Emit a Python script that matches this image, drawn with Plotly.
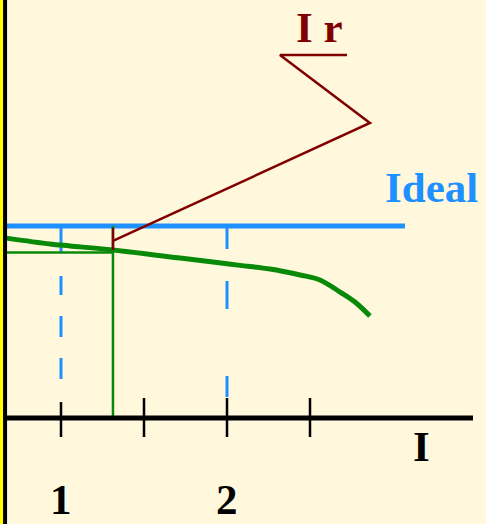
import plotly.graph_objects as go

# ---- data (x: current I, ticks 1 and 2; y: ratio, Ideal = 1) ----
tick_x = [1.0, 1.5, 2.0, 2.5]
tick_labels = ["1", "", "2", ""]
axis_x_start = 0.663
axis_x_end = 3.482

ideal_y = 1.0
ideal_x_end = 3.072

green_x = [0.663, 0.934, 1.054, 1.313, 1.717, 1.928, 2.078, 2.259, 2.440, 2.560, 2.681, 2.771, 2.861]
green_y = [0.938, 0.906, 0.896, 0.875, 0.833, 0.811, 0.795, 0.776, 0.745, 0.719, 0.656, 0.604, 0.531]

oper_x = 1.313
oper_y = 0.862

ir_x = [1.313, 2.861, 2.319, 2.723]
ir_y = [0.922, 1.537, 1.891, 1.891]
ir_stem_y = [0.99, 0.875]

dash_x = [1.0, 2.0]

XR = [0.63253, 3.56024]
YR = [-0.55208, 2.17708]

BLUE = "#1E90FF"
GREEN = "#088A08"
RED = "#800000"
BG = "#FFF8DC"

fig = go.Figure()

def line(x, y, color, width, dash="solid", shape="linear"):
    fig.add_trace(go.Scatter(x=x, y=y, mode="lines",
                             line=dict(color=color, width=width, dash=dash, shape=shape),
                             hoverinfo="skip", showlegend=False))

# blue dashed verticals
line([dash_x[0], dash_x[0]], [ideal_y, 0], BLUE, 3, "26px,24px,19px,21px,21px,21px,21px,40px")
line([dash_x[1], dash_x[1]], [ideal_y, 0], BLUE, 3, "23px,32px,28px,67px,21px,40px")
# ideal line
line([axis_x_start, ideal_x_end], [ideal_y, ideal_y], BLUE, 5)
# operating point lines
line([axis_x_start, oper_x], [oper_y, oper_y], GREEN, 2.5)
line([oper_x, oper_x], [ideal_y, 0], GREEN, 2.5)
# green curve
line(green_x, green_y, GREEN, 5, shape="spline")
# Ir
line([oper_x, oper_x], ir_stem_y, RED, 2.5)
line(ir_x, ir_y, RED, 2.5)
# left axis
line([axis_x_start, axis_x_start], [YR[0], YR[1]], "black", 4)
# x axis
line([axis_x_start, axis_x_end], [0, 0], "black", 5)
for i, tx in enumerate(tick_x):
    top = 0.083 if i == 0 else 0.104
    line([tx, tx], [top, -0.099], "black", 2.5)

font = dict(family="Liberation Serif, Times New Roman, serif", size=43)
ann = []
for tx, lab in zip(tick_x, tick_labels):
    if lab:
        ann.append(dict(x=tx, y=YR[0], text="<b>%s</b>" % lab, showarrow=False,
                        xanchor="center", yanchor="bottom", borderpad=0,
                        font=dict(font, color="black")))
ann.append(dict(x=3.173, y=-0.151, text="<b>I</b>", showarrow=False,
                xanchor="center", yanchor="middle", font=dict(font, color="black")))
ann.append(dict(x=3.232, y=1.20, text="<b>Ideal</b>", showarrow=False,
                xanchor="center", yanchor="middle", font=dict(font, color=BLUE)))
ann.append(dict(x=2.557, y=2.036, text="<b>I r</b>", showarrow=False,
                xanchor="center", yanchor="middle", font=dict(font, color=RED)))

fig.update_layout(
    width=486, height=524,
    margin=dict(l=0, r=0, t=0, b=0),
    paper_bgcolor=BG, plot_bgcolor=BG,
    xaxis=dict(range=XR, visible=False, fixedrange=True),
    yaxis=dict(range=YR, visible=False, fixedrange=True),
    annotations=ann,
    shapes=[dict(type="rect", xref="paper", yref="paper", x0=0, x1=3/486, y0=0, y1=1,
                 fillcolor="#FFFF00", line=dict(width=0), layer="above")],
)

fig.write_html("out.html", config={"displayModeBar": False},
               post_script="document.body.style.margin='0';document.body.style.overflow='hidden';")
